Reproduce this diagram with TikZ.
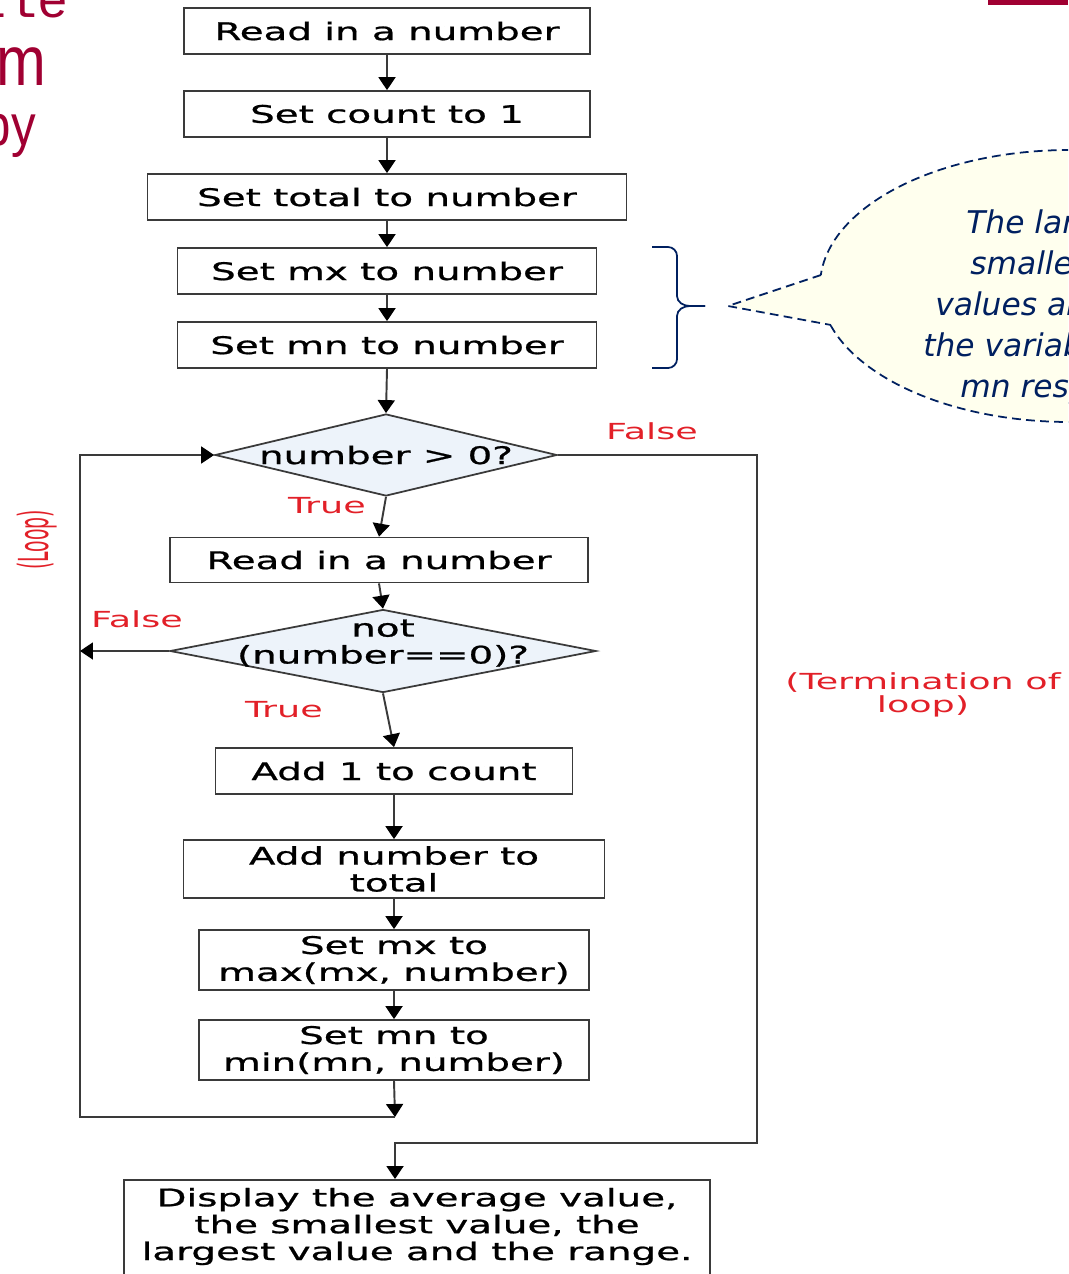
\documentclass[tikz,border=0pt]{standalone}
\usepackage{fontspec}
\usepackage{graphicx}
\setmainfont{DejaVu Sans}
\newfontfamily\flowfont{DejaVu Sans}[FakeStretch=1.6, FakeBold=0.9]
\newfontfamily\labelfont{DejaVu Sans}[FakeStretch=1.65]
\newfontfamily\titlefont{Liberation Sans}[FakeStretch=0.85]
\newfontfamily\codefont{Liberation Mono}
\usetikzlibrary{shapes.geometric,arrows.meta}

\definecolor{slidered}{RGB}{160,0,50}
\definecolor{labelred}{RGB}{226,32,40}
\definecolor{notenavy}{RGB}{0,32,96}
\definecolor{notefill}{RGB}{255,255,238}
\definecolor{decfill}{RGB}{237,243,250}
\definecolor{linegray}{RGB}{58,58,58}

\newcommand{\px}{0.02cm}
\newcommand{\flowtext}{\flowfont\fontsize{13.8}{15.3}\selectfont}
\newcommand{\labeltext}{\labelfont\fontsize{12.6}{13.2}\selectfont}
\newcommand{\notetext}{\itshape\fontsize{17.8}{20}\selectfont}

\tikzset{
  stepbox/.style={draw=linegray, line width=1pt, fill=white, inner sep=0pt, align=center, font=\flowtext},
  decbox/.style={shape=diamond, draw=linegray, line width=1pt, fill=decfill, inner sep=0pt, font=\flowtext},
  flow/.style={draw=linegray, line width=1.1pt, -{Triangle[length=0.26cm, width=0.34cm, color=black]}},
  lbl/.style={font=\labeltext, text=labelred, inner sep=0pt, align=center},
  noteline/.style={font=\notetext, text=notenavy, anchor=base west, inner sep=0pt},
  slidetitle/.style={text=slidered, anchor=base east, inner sep=0pt},
  notedash/.style={notenavy, line width=1pt, dash pattern=on 5pt off 3pt}
}

\begin{document}
\begin{tikzpicture}[x=\px, y=-\px]
	\useasboundingbox (0,0) rectangle (1068,1274);
	\clip (0,0) rectangle (1068,1274);
	
	% what is left of the slide around the chart
	\fill[slidered] (988,0) rectangle (1068,5);
	\node[slidetitle, font=\codefont\fontsize{29.5}{30}\selectfont] (ttl1) at (69,18) {ile};
	\node[slidetitle, font=\titlefont\fontsize{40}{44}\selectfont] (ttl2) at (47,86) {m};
	\node[slidetitle, font=\titlefont\fontsize{33}{36}\selectfont] (ttl3) at (36,145) {by};
	
	% set up
	\node[stepbox, minimum width=406*\px, minimum height=46*\px] (rd1) at (387,31) {Read in a number};
	\node[stepbox, minimum width=406*\px, minimum height=46*\px] (cnt) at (387,114) {Set count to 1};
	\node[stepbox, minimum width=479*\px, minimum height=46*\px] (tot) at (387,197) {Set total to number};
	\node[stepbox, minimum width=419*\px, minimum height=46*\px] (setmx) at (387,271) {Set mx to number};
	\node[stepbox, minimum width=419*\px, minimum height=46*\px] (setmn) at (387,345) {Set mn to number};
	
	% loop body
	\node[decbox, minimum width=342*\px, minimum height=82*\px] (chk) at (386,455) {\makebox[0pt]{number > 0?}};
	\node[stepbox, minimum width=418*\px, minimum height=45*\px] (rd2) at (379,560) {Read in a number};
	\node[decbox, minimum width=426*\px, minimum height=83*\px, text height=18.6pt, text depth=18.6pt] (notz) at (383,651)
		{\makebox[0pt]{\begin{tabular}{@{}c@{}}not\\(number==0)?\end{tabular}}};
	\node[stepbox, minimum width=357*\px, minimum height=46*\px] (inc) at (394,771) {Add 1 to count};
	\node[stepbox, minimum width=421*\px, minimum height=58*\px] (addt) at (394,869) {Add number to\\total};
	\node[stepbox, minimum width=390*\px, minimum height=60*\px] (upmx) at (394,960) {Set mx to\\max(mx, number)};
	\node[stepbox, minimum width=390*\px, minimum height=60*\px] (upmn) at (394,1050) {Set mn to\\min(mn, number)};
	
	% result
	\node[stepbox, anchor=north, minimum width=586*\px, inner ysep=8*\px] (disp) at (417,1179)
		{Display the average value,\\the smallest value, the\\largest value and the range.\rule[-1cm]{0pt}{1cm}};
	
	\coordinate (lj) at (395,1117);
	\coordinate (lc) at (80,1117);
	\coordinate (tr) at (757,1143);
	\coordinate (tj) at (395,1143);
	
	\draw[flow] (rd1.south) -- (cnt.north);
	\draw[flow] (cnt.south) -- (tot.north);
	\draw[flow] (tot.south) -- (setmx.north);
	\draw[flow] (setmx.south) -- (setmn.north);
	\draw[flow] (setmn.south) -- (chk.north);
	\draw[flow] (chk.south) -- (rd2.north);
	\draw[flow] (rd2.south) -- (notz.north);
	\draw[flow] (notz.south) -- (inc.north);
	\draw[flow] (inc.south) -- (addt.north);
	\draw[flow] (addt.south) -- (upmx.north);
	\draw[flow] (upmx.south) -- (upmn.north);
	\draw[flow] (upmn.south) -- (lj);
	\draw[flow] (lj) -- (lc) |- (chk.west);
	\draw[flow] (notz.west) -- (notz.west -| lc);
	\draw[flow] (chk.east) -| (tr) -- (tj) -- (tj |- disp.north);
	
	\node[lbl] (fls1) at (652,431) {False};
	\node[lbl] (tru1) at (327,506) {True};
	\node[lbl] (fls2) at (137,619) {False};
	\node[lbl] (tru2) at (284,710) {True};
	\node[lbl] (term) at (923,695) {(Termination of\\loop)};
	\node[text=labelred, inner sep=0pt, font=\fontsize{10.7}{12}\selectfont] (loop) at (37,540)
		{\rotatebox{90}{\scalebox{1}[2.2]{(Loop)}}};
	
	% brace and callout
	\draw[notenavy, line width=1pt] (652,247) -- (668,247) to[out=0,in=90] (677,256) -- (677,296)
		to[out=-90,in=180] (690,306) -- (705,306);
	\draw[notenavy, line width=1pt] (705,306) -- (690,306) to[out=180,in=90] (677,316) -- (677,359)
		to[out=-90,in=0] (668,368) -- (652,368);
	
	\fill[notefill] (1070,286) ellipse [x radius=250*\px, y radius=136*\px];
	\draw[notedash] (1070,286) ellipse [x radius=250*\px, y radius=136*\px];
	\fill[notefill] (728,306) -- (821,275) -- (842,275) -- (842,325) -- (831,325) -- cycle;
	\draw[notedash] (821,275) -- (728,306) -- (831,325);
	
	\node[noteline] (nt1) at (966,233) {The lar};
	\node[noteline] (nt2) at (970,274) {smalle};
	\node[noteline] (nt3) at (935,315) {values ar};
	\node[noteline] (nt4) at (923,356) {the variab};
	\node[noteline] (nt5) at (960,397) {mn resp};
\end{tikzpicture}
\end{document}
